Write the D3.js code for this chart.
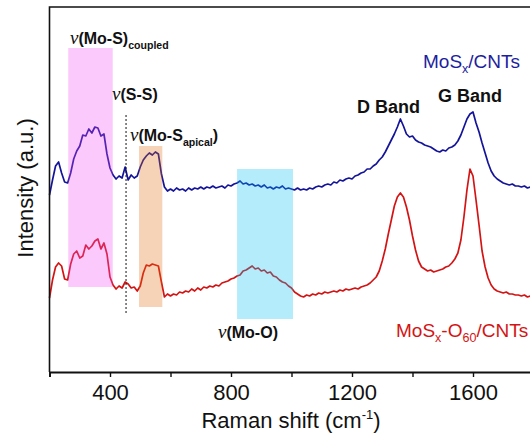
<!DOCTYPE html>
<html>
<head>
<meta charset="utf-8">
<script src="https://cdn.jsdelivr.net/npm/d3@7"></script>
<style>
  body { margin: 0; background: #fff; }
  svg { display: block; }
</style>
</head>
<body>
<svg id="chart" width="530" height="434"></svg>
<script>
// Raman spectra sampled every 10 cm-1 from 200 to 1800 cm-1 (offset intensities, a.u.)
const shiftStart = 200;
const shiftStep = 10;

const mosxCnts = [
  177,192,206,210,199,190,189,199,213,221, 226,237,236,243,239,245,244,236,238,218,
  204,197,193,196,194,205,192,197,194,196, 205,212,216,219,217,220,218,198,185,181,
  183,181,184,182,183,181,184,182,184,183, 185,183,185,184,186,184,185,186,184,187,
  186,188,189,191,188,189,187,188,186,187, 185,187,184,185,183,185,184,186,183,184,
  183,182,184,182,183,182,184,183,185,186, 185,187,188,187,190,189,192,191,193,194,
  193,196,197,199,200,203,203,206,208,212, 215,220,226,232,238,245,253,246,238,235,
  236,232,230,229,227,226,225,223,221,220, 222,221,224,225,227,231,237,245,253,258,
  260,249,240,229,219,209,201,196,193,191, 189,188,187,188,186,186,185,186,184,185,
  185
];

const mosxO60Cnts = [
   74, 92,105,109,106, 93, 92,108,118,121, 114,116,127,123,126,131,133,123,129,118,
   95, 87, 83, 86, 84, 90, 88, 84, 85, 81,  86, 99,107,106,108,107,106, 90, 75, 78,
   76, 78, 77, 80, 79, 81, 80, 83, 81, 84,  82, 85, 84, 86, 85, 87, 86, 89, 90, 91,
   93, 94, 96, 97,101,102,104,106,103,104, 101,102, 99,100, 96, 95, 92, 90, 89, 86,
   84, 80, 78, 76, 75, 77, 76, 78, 77, 79,  78, 80, 79, 80, 81, 80, 82, 81, 83, 82,
   83, 84, 83, 85, 86, 87, 89, 92, 95,101, 111,123,138,152,166,175,179,175,165,152,
  136,122,111,105,103,101,102,100,101,102, 103,105,106,109,113,119,132,155,182,203,
  196,172,147,121,105, 94, 87, 83, 81, 80,  79, 80, 78, 78, 77, 77, 76, 77, 75, 76,
   75
];

// Axis ticks
const xTickValues = [200, 400, 600, 800, 1000, 1200, 1400, 1600, 1800];
const xTickLabels = [400, 800, 1200, 1600];

// Highlighted vibration regions: [start, end] in cm-1 and [bottom, top] in a.u.
const bandShifts = [[262, 409], [496, 573], [820, 1005]];
const bandLevels = [[85, 324], [65, 226], [53, 203]];
const bandColors = ["#f24bf2", "#e16c0c", "#08c0f5"];

// S-S stretch marker
const ssShift = 453;
const ssLevels = [59, 259];

const W = 530, H = 434;
const svg = d3.select("#chart");
svg.append("rect").attr("width", W).attr("height", H).attr("fill", "#fff");

const x = d3.scaleLinear().domain([200, 1800]).range([49.5, 533.5]);
const y = d3.scaleLinear().domain([0, 365]).range([372, 7]);

const sans = "Arial, 'Liberation Sans', Helvetica, sans-serif";
const serif = "'Times New Roman', 'Liberation Serif', serif";

const toPoints = arr => arr.map((v, i) => [shiftStart + i * shiftStep, v]);
const line = d3.line().x(d => x(d[0])).y(d => y(d[1]));

const spectra = [
  { values: mosxCnts, color: "#14149a" },
  { values: mosxO60Cnts, color: "#d41414" }
];

svg.append("g").selectAll("path")
  .data(spectra)
  .join("path")
  .attr("d", d => line(toPoints(d.values)))
  .attr("fill", "none")
  .attr("stroke", d => d.color)
  .attr("stroke-width", 1.7)
  .attr("stroke-linejoin", "round");

// translucent region highlights over the spectra
svg.append("g").selectAll("rect")
  .data(bandShifts.map((s, i) => ({ s, l: bandLevels[i], c: bandColors[i] })))
  .join("rect")
  .attr("x", d => x(d.s[0]))
  .attr("width", d => x(d.s[1]) - x(d.s[0]))
  .attr("y", d => y(d.l[1]))
  .attr("height", d => y(d.l[0]) - y(d.l[1]))
  .attr("fill", d => d.c)
  .attr("fill-opacity", 0.3);

svg.append("line")
  .attr("x1", x(ssShift)).attr("x2", x(ssShift))
  .attr("y1", y(ssLevels[0])).attr("y2", y(ssLevels[1]))
  .attr("stroke", "#111")
  .attr("stroke-width", 1)
  .attr("stroke-dasharray", "2,2");

// frame
svg.append("path")
  .attr("d", `M${x(200)},${y(0)} V${y(365)} H${x(1800)}`)
  .attr("fill", "none")
  .attr("stroke", "#111")
  .attr("stroke-width", 1.6);

const xAxis = d3.axisBottom(x)
  .tickValues(xTickValues)
  .tickSize(5)
  .tickFormat(d => xTickLabels.includes(d) ? d : "");
const gx = svg.append("g")
  .attr("transform", `translate(0,${y(0)})`)
  .call(xAxis);
gx.select(".domain").attr("stroke", "#111").attr("stroke-width", 1.8);
gx.selectAll(".tick line").attr("stroke", "#111").attr("stroke-width", 1.4);
gx.selectAll(".tick text")
  .attr("font-family", sans)
  .attr("font-size", 22)
  .attr("fill", "#111")
  .attr("dy", "0.9em");

// axis titles
const xt = svg.append("text")
  .attr("x", 291).attr("y", 428)
  .attr("text-anchor", "middle")
  .attr("font-family", sans).attr("font-size", 22).attr("fill", "#111");
xt.append("tspan").text("Raman shift (cm");
xt.append("tspan").attr("font-size", 13).attr("dy", -9).text("-1");
xt.append("tspan").attr("dy", 9).text(")");

svg.append("text")
  .attr("transform", "translate(33,188) rotate(-90)")
  .attr("text-anchor", "middle")
  .attr("font-family", sans).attr("font-size", 22).attr("fill", "#111")
  .text("Intensity (a.u.)");

// annotation helper: pieces of [text, kind]
function label(px, py, parts, fill = "#111", size = 16) {
  const t = svg.append("text").attr("x", px).attr("y", py).attr("fill", fill);
  let shift = 0;
  parts.forEach(([txt, kind]) => {
    const s = t.append("tspan").text(txt);
    let target = 0;
    if (kind === "nu") {
      s.attr("font-family", serif).attr("font-style", "italic").attr("font-size", size + 3);
    } else if (kind === "sub") {
      s.attr("font-family", sans).attr("font-weight", "bold").attr("font-size", size * 0.66);
      target = 5;
    } else if (kind === "subr") {
      s.attr("font-family", sans).attr("font-size", size * 0.66);
      target = 5;
    } else if (kind === "reg") {
      s.attr("font-family", sans).attr("font-size", size);
    } else {
      s.attr("font-family", sans).attr("font-weight", "bold").attr("font-size", size);
    }
    if (target !== shift) { s.attr("dy", target - shift); shift = target; }
  });
  return t;
}

label(70, 44, [["ν", "nu"], ["(Mo-S)", "b"], ["coupled", "sub"]]);
label(112, 100, [["ν", "nu"], ["(S-S)", "b"]]);
label(130, 141, [["ν", "nu"], ["(Mo-S", "b"], ["apical", "sub"], [")", "b"]]);
label(218, 338, [["ν", "nu"], ["(Mo-O)", "b"]]);
label(357, 113, [["D Band", "b"]], "#111", 18);
label(438, 102, [["G Band", "b"]], "#111", 18);
label(423, 68, [["MoS", "reg"], ["x", "subr"], ["/CNTs", "reg"]], "#1e1ea0", 19);
label(396, 337, [["MoS", "reg"], ["x", "subr"], ["-O", "reg"], ["60", "subr"], ["/CNTs", "reg"]], "#d41414", 19);
</script>
</body>
</html>
